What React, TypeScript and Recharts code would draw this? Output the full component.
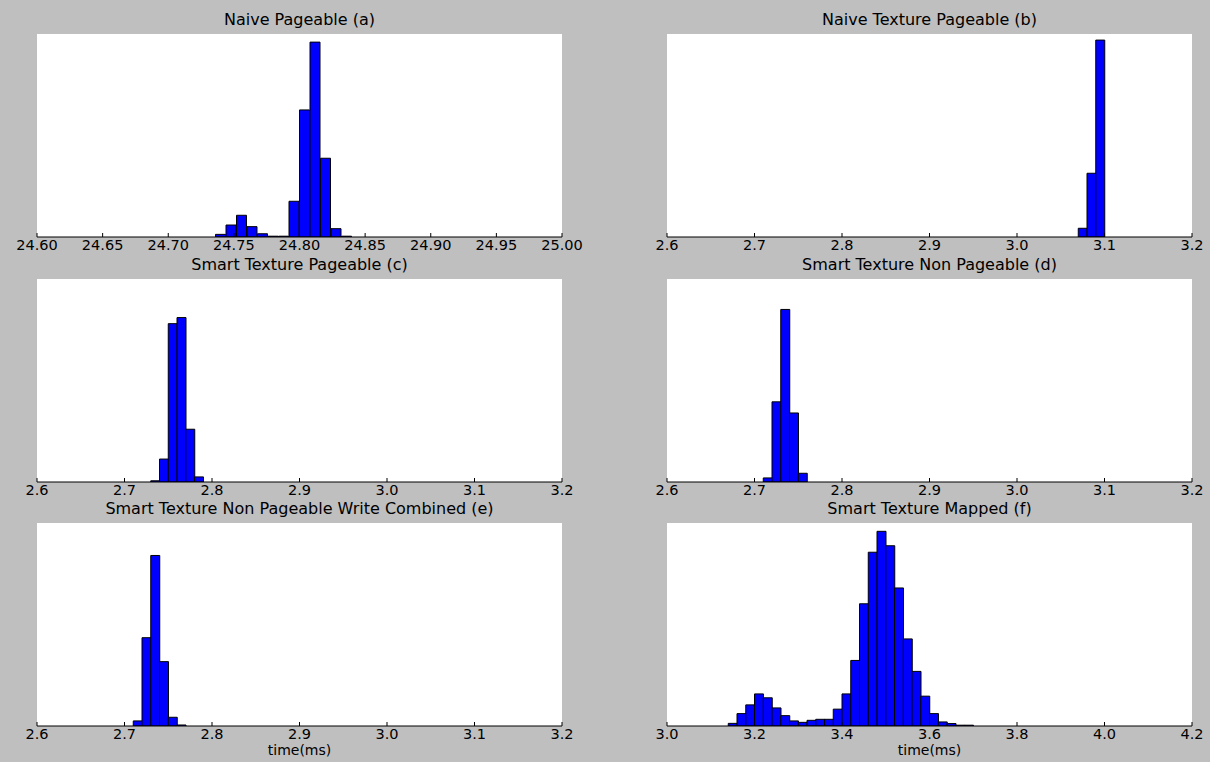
import { BarChart, Bar, XAxis, YAxis, CartesianGrid } from "recharts";

// histogram bins: left edge of the first bin, bin width, relative heights (% of y range)
const aStart = 24.736;
const aWidth = 0.008;
const aCounts = [1.3, 5.9, 10.7, 5.1, 1.6, 0.4, 0.4, 17.6, 62.6, 96, 38.8, 4.1, 0.4];

const bStart = 3.07;
const bWidth = 0.01;
const bCounts = [4.3, 31.4, 97];

const cStart = 2.73;
const cWidth = 0.01;
const cCounts = [0.6, 11.3, 78, 81, 26, 2.5];

const dStart = 2.71;
const dWidth = 0.01;
const dCounts = [2, 39.5, 85, 34, 4.3];

const eStart = 2.71;
const eWidth = 0.01;
const eCounts = [2.5, 43.5, 84, 31.7, 4.3, 0.5];

const fStart = 3.14;
const fWidth = 0.02;
const fCounts = [
  1.3, 6.1, 10.4, 15.8, 13.9, 8.9, 5.1, 2.5, 1.8, 2.8, 3.3, 3.3, 8.3, 15.8,
  32.3, 60.2, 85.6, 95.9, 88.8, 68, 42.9, 26.9, 14.7, 6.1, 2.0, 1.2, 0.4, 0.4,
];

const ticksA = [24.6, 24.65, 24.7, 24.75, 24.8, 24.85, 24.9, 24.95, 25.0];
const ticksMid = [2.6, 2.7, 2.8, 2.9, 3.0, 3.1, 3.2];
const ticksF = [3.0, 3.2, 3.4, 3.6, 3.8, 4.0, 4.2];

const rowTops = [0, 245, 489];
const FONT = "DejaVu Sans";

function bins(start: number, width: number, counts: number[]) {
  return counts.map((v, i) => ({ t: start + (i + 0.5) * width, v }));
}

const panels = [
  { title: "Naive Pageable (a)", data: bins(aStart, aWidth, aCounts), domain: [24.6, 25.0], ticks: ticksA, digits: 2, col: 0, row: 0 },
  { title: "Naive Texture Pageable (b)", data: bins(bStart, bWidth, bCounts), domain: [2.6, 3.2], ticks: ticksMid, digits: 1, col: 1, row: 0 },
  { title: "Smart Texture Pageable (c)", data: bins(cStart, cWidth, cCounts), domain: [2.6, 3.2], ticks: ticksMid, digits: 1, col: 0, row: 1 },
  { title: "Smart Texture Non Pageable (d)", data: bins(dStart, dWidth, dCounts), domain: [2.6, 3.2], ticks: ticksMid, digits: 1, col: 1, row: 1 },
  { title: "Smart Texture Non Pageable Write Combined (e)", data: bins(eStart, eWidth, eCounts), domain: [2.6, 3.2], ticks: ticksMid, digits: 1, col: 0, row: 2 },
  { title: "Smart Texture Mapped (f)", data: bins(fStart, fWidth, fCounts), domain: [3.0, 4.2], ticks: ticksF, digits: 1, col: 1, row: 2 },
];

function Panel({ p }: { p: (typeof panels)[number] }) {
  const margin = p.col === 0
    ? { top: 34, left: 37, right: 43, bottom: 0 }
    : { top: 34, left: 62, right: 18, bottom: 0 };
  const bottomRow = p.row === 2;
  return (
    <div style={{ position: "absolute", left: p.col * 605, top: rowTops[p.row], width: 605, height: 277 }}>
      <div
        style={{
          position: "absolute",
          left: margin.left,
          width: 525,
          top: 13.5,
          textAlign: "center",
          fontFamily: FONT,
          fontSize: 16,
          lineHeight: "12px",
          color: "#000",
          whiteSpace: "nowrap",
        }}
      >
        {p.title}
      </div>
      <BarChart width={605} height={277} data={p.data} margin={margin} barCategoryGap={0} barGap={0}>
        <CartesianGrid fill="#ffffff" horizontal={false} vertical={false} />
        <XAxis
          dataKey="t"
          type="number"
          domain={p.domain}
          ticks={p.ticks}
          interval={0}
          allowDataOverflow
          height={40}
          tickSize={-4}
          tickMargin={7}
          stroke="#000"
          tickFormatter={(v: number) => v.toFixed(p.digits)}
          tick={{ fill: "#000", fontSize: 14.5, fontFamily: FONT }}
          label={
            bottomRow
              ? { value: "time(ms)", position: "insideBottom", offset: 11, fill: "#000", fontSize: 14, fontFamily: FONT }
              : undefined
          }
        />
        <XAxis
          xAxisId="top"
          orientation="top"
          type="number"
          domain={p.domain}
          ticks={p.ticks}
          interval={0}
          allowDataOverflow
          height={0}
          tickSize={-4}
          tick={false}
          stroke="#000"
        />
        <YAxis domain={[0, 100]} allowDataOverflow width={0} tick={false} tickLine={false} stroke="#000" />
        <YAxis yAxisId="r" orientation="right" domain={[0, 100]} allowDataOverflow width={0} tick={false} tickLine={false} stroke="#000" />
        <Bar dataKey="v" fill="#0000ff" stroke="#000" strokeWidth={1} isAnimationActive={false} />
      </BarChart>
    </div>
  );
}

export default function App() {
  return (
    <div style={{ position: "fixed", left: 0, top: 0, width: 1210, height: 762, background: "#bfbfbf", overflow: "hidden" }}>
      {panels.map((p) => (
        <Panel key={p.title} p={p} />
      ))}
    </div>
  );
}
